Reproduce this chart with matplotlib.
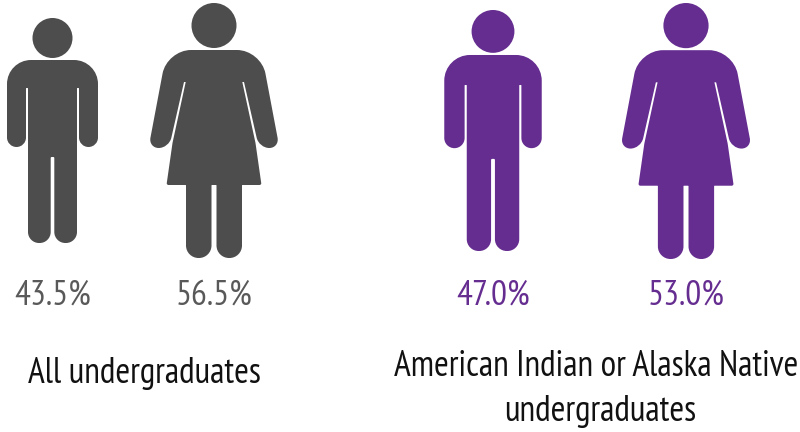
import matplotlib
matplotlib.use('Agg')
from matplotlib import pyplot as plt
from matplotlib.path import Path
from matplotlib.patches import PathPatch, Circle
import numpy as np

plt.rcParams['font.family'] = ['PT Sans Narrow', 'Liberation Sans', 'DejaVu Sans']

# values
share_labels = ['43.5%', '56.5%', '47.0%', '53.0%']
kinds = ['man', 'woman', 'man', 'woman']
groups = ['All undergraduates', 'American Indian or Alaska Native', 'undergraduates']

# icon placement, in pixels of the picture
centers = [52.5, 214, 493, 686]
tops = [18, 3, 10, 3]
icon_h = [225, 255, 241, 256]
colors = ['#4d4d4d', '#4d4d4d', '#652d90', '#652d90']
text_colors = ['#595959', '#595959', '#652d90', '#652d90']
group_x = [144, 596.5, 600]
group_y = [374, 367, 412]

# right half of each outline (x from centre, y from top of head), radius at each corner
man_half = [(45.5, 42, 24), (45.5, 129, 9.5), (26.5, 129, 9.5), (26.5, 70, 0.5), (24.5, 70, 0.5),
            (24.5, 225, 11), (1.8, 225, 11), (1.8, 139, 1)]
man_head = (20, 20, 225)
woman_half = [(47, 47, 24), (65.5, 145, 10.5), (45, 145, 10.5), (30, 79, 0.3), (28.3, 79, 0.3),
              (41.5, 140, 1), (47.5, 182, 2), (28, 182, 0.5), (28, 255, 12.5), (2.5, 255, 12.5),
              (2.5, 182, 0.5)]
woman_head = (22.5, 22.5, 255)


def rounded_path(pts):
    # closed outline, corners approximated with cubic arcs
    verts, codes = [], []
    n = len(pts)
    k = 0.5523
    for i in range(n):
        p = np.array(pts[i][:2], float)
        r = pts[i][2]
        a = np.array(pts[i - 1][:2], float)
        b = np.array(pts[(i + 1) % n][:2], float)
        d1 = (a - p) / np.linalg.norm(a - p)
        d2 = (b - p) / np.linalg.norm(b - p)
        r1 = min(r, np.linalg.norm(a - p) / 2)
        r2 = min(r, np.linalg.norm(b - p) / 2)
        verts.append(p + d1 * r1)
        codes.append(Path.MOVETO if i == 0 else Path.LINETO)
        verts += [p + d1 * r1 * (1 - k), p + d2 * r2 * (1 - k), p + d2 * r2]
        codes += [Path.CURVE4, Path.CURVE4, Path.CURVE4]
    verts.append(verts[0])
    codes.append(Path.CLOSEPOLY)
    return Path(verts, codes)


def draw_icon(ax, kind, cx, top, h, color):
    half, head = (man_half, man_head) if kind == 'man' else (woman_half, woman_head)
    s = h / head[2]
    left = [(-x, y, r) for x, y, r in reversed(half)]
    outline = [(cx + x * s, top + y * s, r * s) for x, y, r in half + left]
    ax.add_patch(PathPatch(rounded_path(outline), fc=color, ec='none'))
    ax.add_patch(Circle((cx, top + head[1] * s), head[0] * s, fc=color, ec='none'))


fig = plt.figure(figsize=(8, 4.32), dpi=100)
ax = fig.add_axes([0, 0, 1, 1])
ax.set_xlim(0, 800)
ax.set_ylim(432, 0)
ax.axis('off')

for i in range(4):
    draw_icon(ax, kinds[i], centers[i], tops[i], icon_h[i], colors[i])
    ax.text(centers[i], 296, share_labels[i], color=text_colors[i], fontsize=25.5,
            ha='center', va='center')

for i in range(3):
    ax.text(group_x[i], group_y[i], groups[i], color='#111111', fontsize=25.6,
            ha='center', va='center')

fig.savefig('out.png', dpi=100)
